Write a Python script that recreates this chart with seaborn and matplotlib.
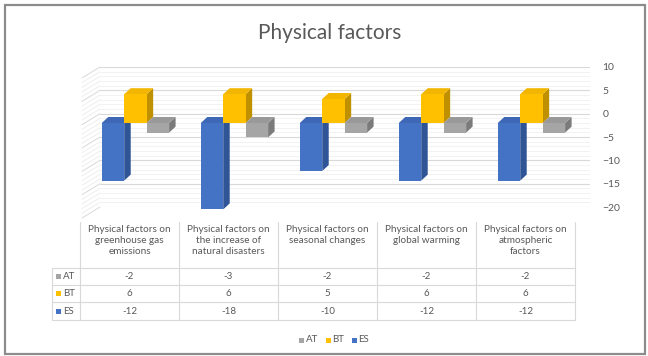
import pandas as pd
import numpy as np
import matplotlib
matplotlib.use("Agg")
import matplotlib.pyplot as plt
import seaborn as sns
from matplotlib.patches import Polygon, Rectangle

# --- dados ---
categorias = [
    "Physical factors on\ngreenhouse gas\nemissions",
    "Physical factors on\nthe increase of\nnatural disasters",
    "Physical factors on\nseasonal changes",
    "Physical factors on\nglobal warming",
    "Physical factors on\natmospheric\nfactors",
]
valores_at = [-2, -3, -2, -2, -2]
valores_bt = [6, 6, 5, 6, 6]
valores_es = [-12, -18, -10, -12, -12]
series = ["AT", "BT", "ES"]
ticks_parede = [-20, -15, -10, -5, 0, 5, 10]

cores = {"ES": "#4472C4", "BT": "#FFC000", "AT": "#A5A5A5"}
cores_lado = {"ES": "#2F5597", "BT": "#BF9000", "AT": "#7B7B7B"}
cores_topo = {"ES": "#3E68B5", "BT": "#F2B600", "AT": "#999999"}
cinza_txt = "#595959"
cinza_linha = "#D9D9D9"

sns.set_theme(style="white")
plt.rcParams["font.family"] = ["Lato", "DejaVu Sans"]

W, H = 648, 356
fig = plt.figure(figsize=(W / 100, H / 100), dpi=100)


def caixa(l, t, r, b):
    return [l / W, 1 - b / H, (r - l) / W, (b - t) / H]


# camada de fundo: borda, tabela, títulos
over = fig.add_axes([0, 0, 1, 1])
over.set_xlim(0, W)
over.set_ylim(H, 0)
over.axis("off")
over.add_patch(Rectangle((5, 5), 640, 349, fill=False, ec="#8C8C8C", lw=1.6))
over.text(330, 33, "Physical factors", ha="center", va="center", fontsize=15,
          color=cinza_txt)

# parede do fundo (gridlines + eixo direito)
wall = fig.add_axes(caixa(100, 67, 590, 207))
wall.set_ylim(-20, 10)
wall.set_xlim(0, 1)
for s in wall.spines.values():
    s.set_visible(False)
wall.set_xticks([])
wall.set_yticks(ticks_parede)
wall.set_yticks(np.arange(-20, 11, 1), minor=True)
wall.yaxis.tick_right()
wall.tick_params(axis="y", which="both", length=0, pad=9, labelsize=7.5, labelcolor=cinza_txt)
wall.grid(axis="y", which="major", color=cinza_linha, lw=0.8)
wall.grid(axis="y", which="minor", color="#F0F0F0", lw=0.6)
wall.patch.set_alpha(0)
# parede lateral (linhas inclinadas)
for t in range(-20, 11):
    y = 207 - (t + 20) * 140 / 30
    cor = cinza_linha if t in ticks_parede else "#EEEEEE"
    over.plot([100, 82], [y, y + 11], color=cor, lw=0.7)

# barras
ax = fig.add_axes(caixa(80, 60, 575, 215))
ax.patch.set_alpha(0)
df = pd.DataFrame({
    "categoria": list(range(5)) * 3,
    "serie": ["ES"] * 5 + ["BT"] * 5 + ["AT"] * 5,
    "valor": valores_es + valores_bt + valores_at,
})
sns.barplot(data=df, x="categoria", y="valor", hue="serie", hue_order=["ES", "BT", "AT"],
            palette=cores, saturation=1, width=0.68, legend=False, ax=ax)
base, escala = 123, 4.8
ax.set_ylim(-(215 - base) / escala, (base - 60) / escala)
ax.set_xlim(-0.56, 4.44)
ax.axis("off")

fig.canvas.draw()
dx, dy = 6.5, 6
inv = ax.transData.inverted()
for k, (cont, nome) in enumerate(zip(ax.containers, ["ES", "BT", "AT"])):
    for p in cont.patches:
        p.set_zorder(3 + k)
        p.set_edgecolor("none")
        x0, x1 = p.get_x(), p.get_x() + p.get_width()
        y0, y1 = sorted([p.get_y(), p.get_y() + p.get_height()])
        (X0, Y0), (X1, Y1) = ax.transData.transform([(x0, y0), (x1, y1)])
        topo = inv.transform([(X0, Y1), (X1, Y1), (X1 + dx, Y1 + dy), (X0 + dx, Y1 + dy)])
        lado = inv.transform([(X1, Y0), (X1, Y1), (X1 + dx, Y1 + dy), (X1 + dx, Y0 + dy)])
        ax.add_patch(Polygon(lado, closed=True, fc=cores_lado[nome], ec="none", zorder=2.9 + k))
        ax.add_patch(Polygon(topo, closed=True, fc=cores_topo[nome], ec="none", zorder=2.95 + k))

# tabela de dados
cols = [80 + 99 * i for i in range(6)]
linhas = [268, 285, 302, 320]
for x in cols:
    over.plot([x, x], [222, 320], color=cinza_linha, lw=0.8)
over.plot([52, 52], [268, 320], color=cinza_linha, lw=0.8)
for y in linhas:
    over.plot([52, 575], [y, y], color=cinza_linha, lw=0.8)

for i, cat in enumerate(categorias):
    cx = (cols[i] + cols[i + 1]) / 2
    over.text(cx, 225, cat, ha="center", va="top", fontsize=7.2, color=cinza_txt,
              linespacing=1.25)

tabela = {"AT": valores_at, "BT": valores_bt, "ES": valores_es}
for j, nome in enumerate(series):
    yc = (linhas[j] + linhas[j + 1]) / 2
    over.add_patch(Rectangle((56, yc - 2.5), 5, 5, fc=cores[nome], ec="none"))
    over.text(63, yc, nome, ha="left", va="center", fontsize=7, color=cinza_txt)
    for i, v in enumerate(tabela[nome]):
        cx = (cols[i] + cols[i + 1]) / 2
        over.text(cx, yc, str(v), ha="center", va="center", fontsize=7, color=cinza_txt)

# legenda
for nome, x in zip(series, [299, 326, 352]):
    over.add_patch(Rectangle((x, 337.5), 5, 5, fc=cores[nome], ec="none"))
    over.text(x + 6.5, 340, nome, ha="left", va="center", fontsize=7, color=cinza_txt)

fig.savefig("out.png", dpi=100)
